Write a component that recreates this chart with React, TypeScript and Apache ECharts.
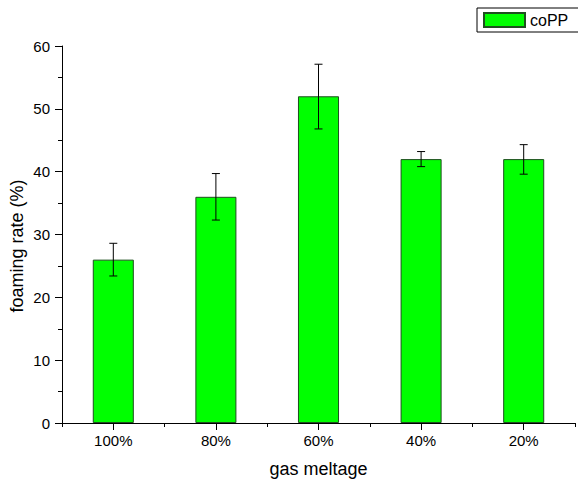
import React, { useEffect, useRef } from "react";
import * as echarts from "echarts";

const categories = ["100%", "80%", "60%", "40%", "20%"];
const foamingRate = [26, 36, 52, 42, 42];
const errorLow = [23.4, 32.3, 46.8, 40.8, 39.6];
const errorHigh = [28.6, 39.7, 57.1, 43.2, 44.3];
const seriesName = "coPP";
const xTitle = "gas meltage";
const yTitle = "foaming rate (%)";

export default function App() {
  const ref = useRef<HTMLDivElement>(null);
  useEffect(() => {
    if (!ref.current) return;
    const chart = echarts.init(ref.current, null, { renderer: "svg" });
    const font = "Arial, 'Liberation Sans', sans-serif";
    const errData = categories.map((_, i) => [i, errorLow[i], errorHigh[i]]);
    chart.setOption({
      animation: false,
      backgroundColor: "#fff",
      textStyle: { fontFamily: font, color: "#000" },
      grid: { left: 62, right: 3, top: 46, bottom: 62 },
      legend: {
        left: 477,
        top: 8,
        padding: [4, 60, 4, 6],
        borderColor: "#000",
        borderWidth: 1,
        itemWidth: 41,
        itemHeight: 14,
        itemGap: 6,
        textStyle: { fontSize: 16, color: "#000", fontFamily: font, padding: [0, 0, 0, 0] },
        data: [{ name: seriesName, icon: "rect" }],
      },
      graphic: [
        {
          type: "text",
          x: 17,
          y: 246,
          rotation: Math.PI / 2,
          style: {
            text: yTitle,
            font: "18px Arial, 'Liberation Sans', sans-serif",
            fill: "#000",
            textAlign: "center",
            textVerticalAlign: "middle",
          },
        },
      ],
      xAxis: [
        {
          type: "category",
          data: categories,
          position: "bottom",
          axisLine: { show: true, lineStyle: { color: "#000", width: 1 } },
          axisTick: { show: true, alignWithLabel: true, length: 7, lineStyle: { color: "#000" } },
          axisLabel: { color: "#000", fontSize: 15, fontFamily: font, margin: 10 },
          name: xTitle,
          nameLocation: "middle",
          nameGap: 37,
          nameTextStyle: { fontSize: 18, color: "#000", fontFamily: font },
          splitLine: { show: false },
        },
        {
          type: "category",
          data: categories,
          position: "bottom",
          axisLine: { show: false },
          axisTick: { show: true, length: 4, lineStyle: { color: "#000" } },
          axisLabel: { show: false },
          splitLine: { show: false },
        },
      ],
      yAxis: {
        type: "value",
        min: 0,
        max: 60,
        interval: 10,
        axisLine: { show: true, lineStyle: { color: "#000", width: 1 } },
        axisTick: { show: true, length: 7, lineStyle: { color: "#000" } },
        minorTick: { show: true, splitNumber: 2, length: 4, lineStyle: { color: "#000" } },
        axisLabel: { color: "#000", fontSize: 15, fontFamily: font, margin: 12 },
        splitLine: { show: false },
      },
      series: [
        {
          name: seriesName,
          type: "bar",
          data: foamingRate,
          barWidth: "40%",
          itemStyle: { color: "#00ff00", borderColor: "#1f4f1f", borderWidth: 1 },
        },
        {
          type: "custom",
          name: "err",
          data: errData,
          z: 10,
          renderItem: (params: any, api: any) => {
            const x = api.value(0);
            const lo = api.coord([x, api.value(1)]);
            const hi = api.coord([x, api.value(2)]);
            const cap = 4;
            const style = { stroke: "#000", lineWidth: 1 };
            return {
              type: "group",
              children: [
                { type: "line", shape: { x1: hi[0], y1: hi[1], x2: lo[0], y2: lo[1] }, style },
                { type: "line", shape: { x1: hi[0] - cap, y1: hi[1], x2: hi[0] + cap, y2: hi[1] }, style },
                { type: "line", shape: { x1: lo[0] - cap, y1: lo[1], x2: lo[0] + cap, y2: lo[1] }, style },
              ],
            };
          },
        },
      ],
    });
    return () => chart.dispose();
  }, []);
  return (
    <div
      ref={ref}
      style={{ position: "absolute", left: 0, top: 0, width: 578, height: 485, background: "#fff" }}
    />
  );
}
